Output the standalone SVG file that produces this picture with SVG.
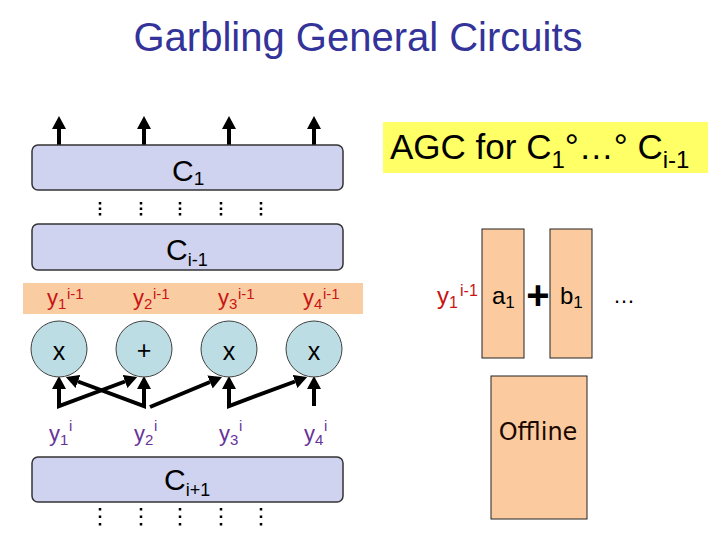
<svg xmlns="http://www.w3.org/2000/svg" width="720" height="540" viewBox="0 0 720 540">
<defs>
<style>
.t{font-family:"Liberation Sans",Arial,sans-serif;}
.box{fill:#D0D3F0;stroke:#333;stroke-width:1.5;}
.gate{fill:#BCDDE3;stroke:#404040;stroke-width:1;}
.wire{fill:none;stroke:#000;stroke-width:4;stroke-linejoin:miter;}
.dots{stroke:#000;stroke-width:2.5;}
.org{fill:#FBCB9F;stroke:#222;stroke-width:1;}
.red{fill:#C81414;}
.pur{fill:#663399;}
</style>
<marker id="ah" viewBox="0 0 13 14" refX="0" refY="7" markerWidth="13" markerHeight="14" markerUnits="userSpaceOnUse" orient="auto-start-reverse">
<path d="M0,0 L13,7 L0,14 z" fill="#000"/>
</marker>
<marker id="as" viewBox="0 0 13 14" refX="0" refY="7" markerWidth="13" markerHeight="14" markerUnits="userSpaceOnUse" orient="auto-start-reverse">
<path d="M0,0 L13,7 L0,14 z" fill="#000"/>
</marker>
</defs>
<rect width="720" height="540" fill="#fff"/>
<text class="t" x="358" y="51" font-size="40" fill="#333399" text-anchor="middle">Garbling General Circuits</text>

<g id="agc-label">
<rect x="383" y="122" width="325" height="51" fill="#FFFF66"/>
<text class="t" x="390" y="159" font-size="35" fill="#000">AGC for C<tspan font-size="24" dy="9">1</tspan><tspan dy="-9">°…° C</tspan><tspan font-size="24" dy="9">i-1</tspan></text>
</g>

<g id="connectors">
<line class="wire" x1="59" y1="145" x2="59" y2="129" stroke-width="3.5" marker-end="url(#ah)"/>
<line class="wire" x1="144" y1="145" x2="144" y2="129" stroke-width="3.5" marker-end="url(#ah)"/>
<line class="wire" x1="229" y1="145" x2="229" y2="129" stroke-width="3.5" marker-end="url(#ah)"/>
<line class="wire" x1="314" y1="145" x2="314" y2="129" stroke-width="3.5" marker-end="url(#ah)"/>
<path class="wire" d="M59,389 V406 L125,381.5" marker-start="url(#as)" marker-end="url(#as)"/>
<path class="wire" d="M78,381.5 L144,406 V389" marker-start="url(#as)" marker-end="url(#as)"/>
<path class="wire" d="M150,407 L210,382" marker-end="url(#as)"/>
<path class="wire" d="M229,389 V406 L295,381.5" marker-start="url(#as)" marker-end="url(#as)"/>
<path class="wire" d="M314,406 V389" marker-end="url(#as)"/>
</g>

<g id="C1">
<rect class="box" x="32" y="145" width="311" height="45" rx="6"/>
<text class="t" x="172" y="181" font-size="30">C<tspan font-size="19" dy="4">1</tspan></text>
</g>
<g id="dots-top">
<line class="dots" x1="100" y1="202" x2="100" y2="215.5" stroke-dasharray="2.5 3"/>
<line class="dots" x1="141" y1="202" x2="141" y2="215.5" stroke-dasharray="2.5 3"/>
<line class="dots" x1="180" y1="202" x2="180" y2="215.5" stroke-dasharray="2.5 3"/>
<line class="dots" x1="221" y1="202" x2="221" y2="215.5" stroke-dasharray="2.5 3"/>
<line class="dots" x1="261" y1="202" x2="261" y2="215.5" stroke-dasharray="2.5 3"/>
</g>
<g id="Ci-1">
<rect class="box" x="32" y="224" width="311" height="46" rx="6"/>
<text class="t" x="166" y="260" font-size="30">C<tspan font-size="18" dy="6">i-1</tspan></text>
</g>

<g id="band">
<rect x="23" y="283" width="340" height="31" fill="#FACCA2"/>
<text class="t red" x="47" y="305" font-size="22">y<tspan font-size="15" dy="4">1</tspan><tspan font-size="15" x="67" dy="-10">i-1</tspan></text>
<text class="t red" x="133" y="305" font-size="22">y<tspan font-size="15" dy="4">2</tspan><tspan font-size="15" x="153" dy="-10">i-1</tspan></text>
<text class="t red" x="218" y="305" font-size="22">y<tspan font-size="15" dy="4">3</tspan><tspan font-size="15" x="238" dy="-10">i-1</tspan></text>
<text class="t red" x="303" y="305" font-size="22">y<tspan font-size="15" dy="4">4</tspan><tspan font-size="15" x="323" dy="-10">i-1</tspan></text>
</g>

<g id="gate1"><circle class="gate" cx="59" cy="349" r="28"/><text class="t" x="59" y="360" font-size="25" text-anchor="middle">x</text></g>
<g id="gate2"><circle class="gate" cx="144" cy="349" r="28"/><text class="t" x="144" y="359" font-size="25" text-anchor="middle">+</text></g>
<g id="gate3"><circle class="gate" cx="229" cy="349" r="28"/><text class="t" x="229" y="360" font-size="25" text-anchor="middle">x</text></g>
<g id="gate4"><circle class="gate" cx="314" cy="349" r="28"/><text class="t" x="314" y="360" font-size="25" text-anchor="middle">x</text></g>

<g id="inputs">
<text class="t pur" x="49" y="441" font-size="22">y<tspan font-size="15" dy="4">1</tspan><tspan font-size="15" x="69" dy="-14">i</tspan></text>
<text class="t pur" x="134" y="441" font-size="22">y<tspan font-size="15" dy="4">2</tspan><tspan font-size="15" x="154" dy="-14">i</tspan></text>
<text class="t pur" x="219" y="441" font-size="22">y<tspan font-size="15" dy="4">3</tspan><tspan font-size="15" x="239" dy="-14">i</tspan></text>
<text class="t pur" x="304" y="441" font-size="22">y<tspan font-size="15" dy="4">4</tspan><tspan font-size="15" x="324" dy="-14">i</tspan></text>
</g>

<g id="Ci+1">
<rect class="box" x="32" y="457" width="311" height="45" rx="6"/>
<text class="t" x="164" y="490" font-size="30">C<tspan font-size="18" dy="6">i+1</tspan></text>
</g>
<g id="dots-bottom">
<line class="dots" x1="100" y1="508" x2="100" y2="525.5" stroke-dasharray="2.5 5"/>
<line class="dots" x1="141" y1="508" x2="141" y2="525.5" stroke-dasharray="2.5 5"/>
<line class="dots" x1="180" y1="508" x2="180" y2="525.5" stroke-dasharray="2.5 5"/>
<line class="dots" x1="221" y1="508" x2="221" y2="525.5" stroke-dasharray="2.5 5"/>
<line class="dots" x1="261" y1="508" x2="261" y2="525.5" stroke-dasharray="2.5 5"/>
</g>

<g id="label-y1">
<text class="t red" x="437" y="304" font-size="24">y<tspan font-size="16" dy="4">1</tspan><tspan font-size="16" x="460" dy="-12">i-1</tspan></text>
</g>
<g id="a1">
<rect class="org" x="482" y="229" width="42" height="129"/>
<text class="t" x="492" y="304" font-size="24">a<tspan font-size="17" dy="4">1</tspan></text>
</g>
<text class="t" x="538" y="309" font-size="40" font-weight="bold" text-anchor="middle">+</text>
<g id="b1">
<rect class="org" x="550" y="229" width="42" height="129"/>
<text class="t" x="560" y="304" font-size="24">b<tspan font-size="17" dy="4">1</tspan></text>
</g>
<text class="t" x="613" y="303" font-size="22">…</text>

<g id="offline">
<rect class="org" x="491" y="376" width="96" height="143"/>
<text x="538" y="440" font-family="'DejaVu Sans',Verdana,sans-serif" font-size="24" fill="#1a0800" text-anchor="middle">Offline</text>
</g>
</svg>
